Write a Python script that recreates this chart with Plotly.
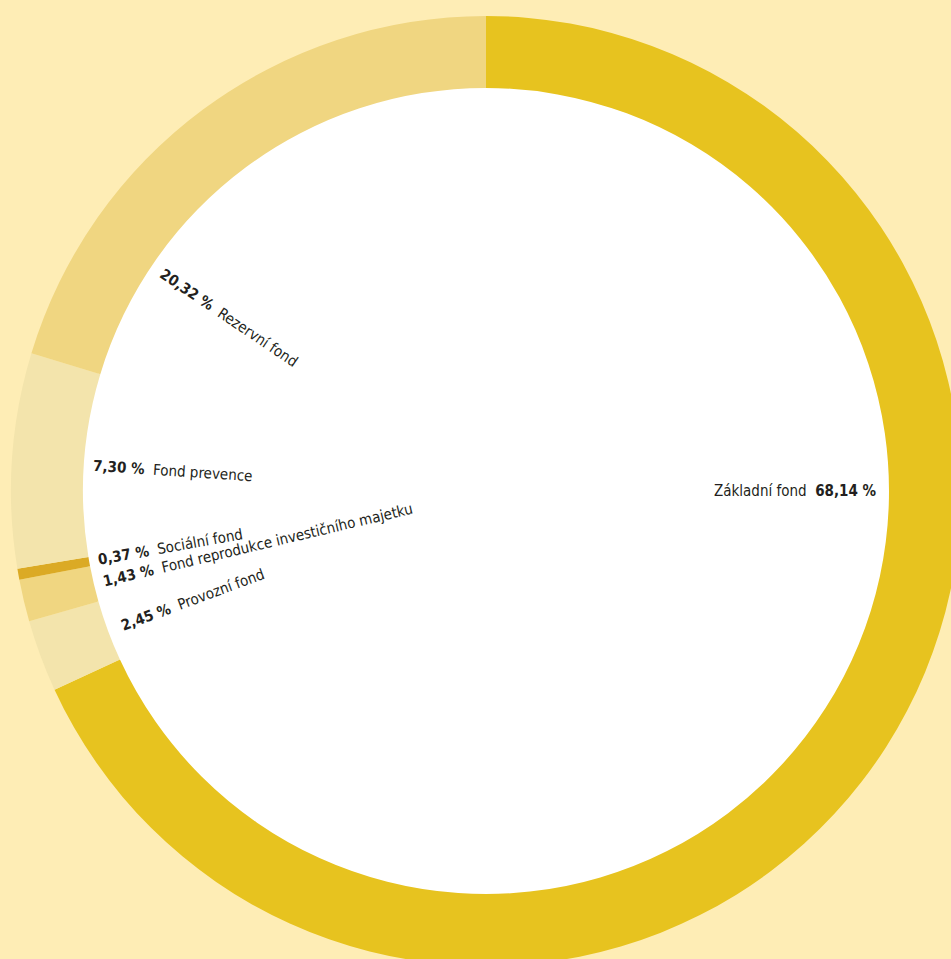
import math
import plotly.graph_objects as go

# ---- data ----
categories = ["Základní fond", "Provozní fond", "Fond reprodukce investičního majetku",
              "Sociální fond", "Fond prevence", "Rezervní fond"]
shares = [68.14, 2.45, 1.43, 0.37, 7.30, 20.32]
share_labels = ["68,14 %", "2,45 %", "1,43 %", "0,37 %", "7,30 %", "20,32 %"]

# ---- style ----
colors = ["#E7C31F", "#F3E4AC", "#F0D681", "#DBAA25", "#F3E4AC", "#F0D681"]
BG = "#FEEDB5"
FONT = "DejaVu Sans Condensed, Liberation Sans Narrow, sans-serif"
W, H = 1000, 1000
CX, CY = 486, 491          # centre in pixels
R_OUT, R_IN = 475, 403
R_LAB = 394                # where labels begin/end
label_angle_override = {0: 90, 5: 304}
label_width = [169, 162, 320, 147, 160, 168]

dom_x = [(CX - R_OUT) / W, (CX + R_OUT) / W]
dom_y = [1 - (CY + R_OUT) / H, 1 - (CY - R_OUT) / H]
dom_xi = [(CX - R_IN - 2) / W, (CX + R_IN + 2) / W]
dom_yi = [1 - (CY + R_IN + 2) / H, 1 - (CY - R_IN - 2) / H]

fig = go.Figure()
fig.add_trace(go.Pie(values=[1], marker=dict(colors=["white"], line=dict(width=0)),
                     textinfo="none", hoverinfo="skip", sort=False,
                     domain=dict(x=dom_xi, y=dom_yi), showlegend=False))
fig.add_trace(go.Pie(labels=categories, values=shares, hole=R_IN / R_OUT,
                     sort=False, direction="clockwise", rotation=0,
                     marker=dict(colors=colors, line=dict(width=0)),
                     textinfo="none", domain=dict(x=dom_x, y=dom_y), showlegend=False))

total = sum(shares)
cum = 0.0
for i, (cat, v, lab) in enumerate(zip(categories, shares, share_labels)):
    mid = (cum + v / 2) / total * 360
    cum += v
    th = label_angle_override.get(i, mid)
    s, c = math.sin(math.radians(th)), math.cos(math.radians(th))
    d = R_LAB - label_width[i] / 2
    px, py = CX + d * s, CY - d * c
    if s >= 0:   # right side: reads towards the ring
        ang = math.degrees(math.atan2(-c, s))
        text = f"{cat}  <b>{lab}</b>"
    else:
        ang = math.degrees(math.atan2(c, -s))
        text = f"<b>{lab}</b>  {cat}"
    fig.add_annotation(x=px / W, y=1 - py / H, xref="paper", yref="paper",
                       text=text, textangle=ang, showarrow=False,
                       xanchor="center", yanchor="middle",
                       font=dict(family=FONT, size=15, color="#231F20"))

fig.update_layout(width=W, height=H, margin=dict(l=0, r=0, t=0, b=0),
                  paper_bgcolor=BG, plot_bgcolor=BG, showlegend=False)

fig.write_html("out.html", config={"displayModeBar": False}, post_script=(
    "document.body.style.margin='0';document.body.style.overflow='hidden';"
    "document.documentElement.style.overflow='hidden';"))
